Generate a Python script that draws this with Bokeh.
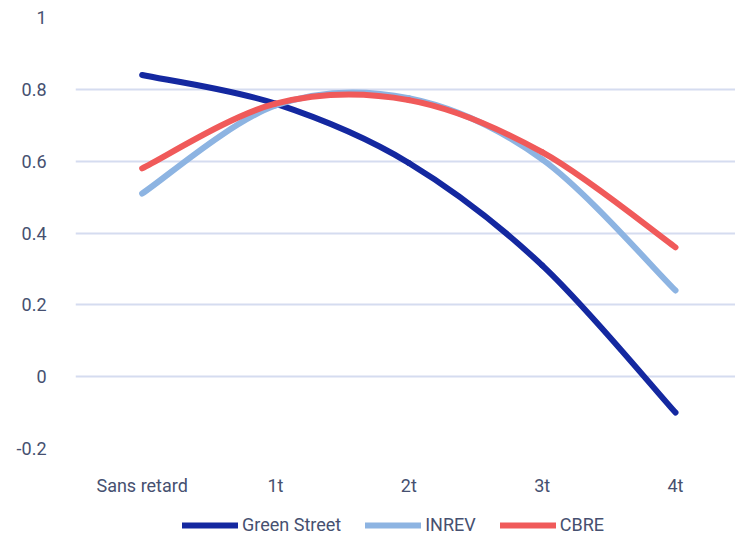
from bokeh.plotting import figure
from bokeh.models import Legend, LegendItem, FixedTicker, Range1d, ColumnDataSource
from bokeh.layouts import column
from bokeh.embed import file_html
from bokeh.resources import INLINE

categories = ["Sans retard", "1t", "2t", "3t", "4t"]
green_street = [0.84, 0.76, 0.595, 0.31, -0.10]
inrev = [0.51, 0.755, 0.775, 0.605, 0.24]
cbre = [0.58, 0.76, 0.77, 0.625, 0.36]
y_ticks = [-0.2, 0, 0.2, 0.4, 0.6, 0.8, 1]

series = [
    ("Green Street", green_street, "#1428a0"),
    ("INREV", inrev, "#8db4e2"),
    ("CBRE", cbre, "#f05a5a"),
]

FONT = "Roboto"
TXT = "#465070"

xs = [i + 0.5 for i in range(len(categories))]

p = figure(width=735, height=505, output_backend="svg", toolbar_location=None,
           x_range=Range1d(0, 4.95), y_range=Range1d(-0.2, 1.0),
           min_border_left=75, min_border_right=0, min_border_top=17, min_border_bottom=57)
p.outline_line_color = None
p.background_fill_color = "white"
p.border_fill_color = "white"

p.xaxis.ticker = FixedTicker(ticks=xs)
p.xaxis.major_label_overrides = {x: c for x, c in zip(xs, categories)}
p.yaxis.ticker = FixedTicker(ticks=y_ticks)
p.yaxis.major_label_overrides = {-0.2: "-0.2", 0: "0", 0.2: "0.2", 0.4: "0.4",
                                 0.6: "0.6", 0.8: "0.8", 1: "1"}
for ax in (p.xaxis, p.yaxis):
    ax.axis_line_color = None
    ax.major_tick_line_color = None
    ax.minor_tick_line_color = None
    ax.major_label_text_font = FONT
    ax.major_label_text_font_size = "18px"
    ax.major_label_text_color = TXT
p.yaxis.major_label_standoff = 23
p.xaxis.major_label_standoff = 20

p.xgrid.grid_line_color = None
p.ygrid.grid_line_color = "#d5dcf0"
p.ygrid.grid_line_width = 2

# legend strip
p2 = figure(width=735, height=30, output_backend="svg", toolbar_location=None,
            x_range=Range1d(0, 1), y_range=Range1d(0, 1),
            min_border_left=0, min_border_right=0, min_border_top=0, min_border_bottom=0,
            x_axis_location=None, y_axis_location=None)
p2.outline_line_color = None
p2.xgrid.grid_line_color = None
p2.ygrid.grid_line_color = None

items = []
for name, vals, color in series:
    n = len(vals)
    x0, y0, x1, y1, cx0, cy0, cx1, cy1 = [], [], [], [], [], [], [], []
    for i in range(n - 1):
        xp, yp = xs[max(i - 1, 0)], vals[max(i - 1, 0)]
        xa, ya = xs[i], vals[i]
        xb, yb = xs[i + 1], vals[i + 1]
        xn, yn = xs[min(i + 2, n - 1)], vals[min(i + 2, n - 1)]
        x0.append(xa); y0.append(ya); x1.append(xb); y1.append(yb)
        cx0.append(xa + (xb - xp) / 6.0); cy0.append(ya + (yb - yp) / 6.0)
        cx1.append(xb - (xn - xa) / 6.0); cy1.append(yb - (yn - ya) / 6.0)
    src = ColumnDataSource(dict(x0=x0, y0=y0, x1=x1, y1=y1, cx0=cx0, cy0=cy0, cx1=cx1, cy1=cy1))
    p.bezier(x0="x0", y0="y0", x1="x1", y1="y1", cx0="cx0", cy0="cy0", cx1="cx1", cy1="cy1",
             source=src, line_color=color, line_width=6, line_cap="round")
    dummy = p2.line(x=[-10, -10], y=[-10, -10], line_color=color, line_width=6, line_cap="round")
    items.append(LegendItem(label=name, renderers=[dummy]))

legend = Legend(items=items, orientation="horizontal", location=(107, 0),
                glyph_width=56, glyph_height=16, label_height=16, label_standoff=4,
                spacing=24, padding=0, margin=0,
                label_text_font=FONT, label_text_font_size="18px", label_text_color=TXT,
                border_line_color=None, background_fill_alpha=0)
p2.add_layout(legend, "center")

layout = column(p, p2, spacing=0)
open("out.html", "w").write(file_html(layout, INLINE))
